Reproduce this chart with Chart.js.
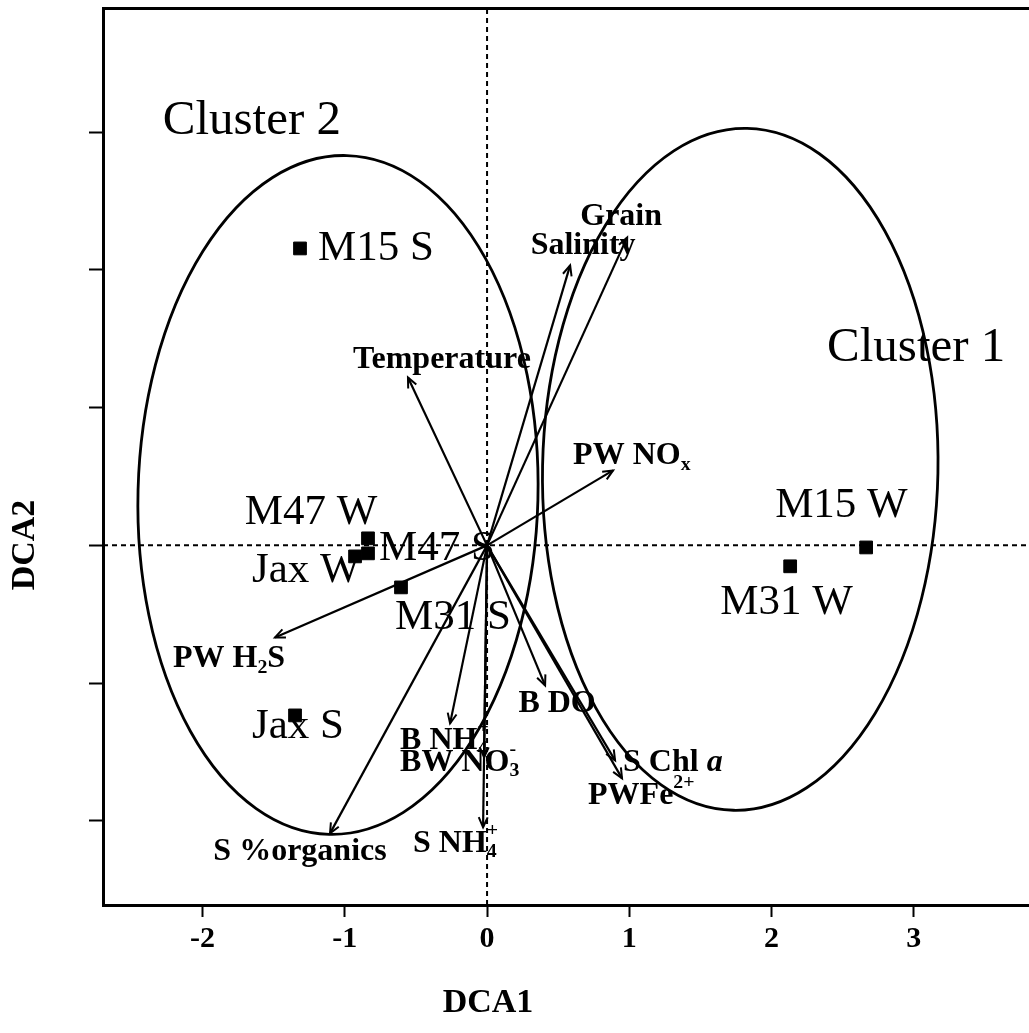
<!DOCTYPE html>
<html>
<head>
<meta charset="utf-8">
<script src="https://cdn.jsdelivr.net/npm/chart.js@4.4.1/dist/chart.umd.min.js"></script>
<style>
  html, body { margin: 0; padding: 0; background: #fff; }
  canvas { display: block; }
</style>
</head>
<body>
<canvas id="chart" width="1029" height="1033"></canvas>
<script>
// Axis ranges and ticks
const X_MIN = -2.70, X_MAX = 3.81;
const Y_MIN = -2.61, Y_MAX = 3.90;
const xTickValues = [-2, -1, 0, 1, 2, 3];
const xTickLabels = ['-2', '-1', '0', '1', '2', '3'];
const yTickValues = [-2, -1, 0, 1, 2, 3];
const xTitle = 'DCA1';
const yTitle = 'DCA2';

// Sample sites (DCA scores)
const siteNames = ['M15 S', 'M47 W', 'M47 S', 'Jax W', 'M31 S', 'Jax S', 'M15 W', 'M31 W'];
const siteDCA1 = [-1.315, -0.837, -0.837, -0.928, -0.605, -1.350, 2.665, 2.131];
const siteDCA2 = [2.155, 0.051, -0.058, -0.080, -0.305, -1.234, -0.015, -0.152];

// Environmental vectors (arrow tips). _{} = subscript, ^{} = superscript, *...* = italic
const vectorNames = ['Grain', 'Salinity', 'Temperature', 'PW NO_{x}', 'PW H_{2}S', 'S %organics',
  'B DO', 'S Chl *a*', 'PWFe^{2+}', 'B NH_{4}^{+}', 'BW NO_{3}^{-}', 'S NH_{4}^{+}'];
const vectorDCA1 = [0.985, 0.584, -0.556, 0.886, -1.491, -1.104, 0.408, 0.900, 0.949, -0.260, -0.021, -0.028];
const vectorDCA2 = [2.235, 2.032, 1.219, 0.544, -0.668, -2.090, -1.016, -1.560, -1.691, -1.292, -1.538, -2.046];

// Cluster ellipses
const clusterNames = ['Cluster 2', 'Cluster 1'];
const clusterCX = [-1.048, 1.78];
const clusterCY = [0.366, 0.552];
const clusterRX = [1.406, 1.39];
const clusterRY = [2.464, 2.475];
const clusterTilt = [0.026, 0.02];

// Label placement (pixel offsets from the mark)
const siteLabelDX = [18, -57, 11, -103, -6, -43, -91, -70];
const siteLabelDY = [0, -26, -5, 14, 30, 11, -42, 36];
const siteLabelAlign = ['left', 'center', 'left', 'left', 'left', 'left', 'left', 'left'];
const vectorLabelDX = [-6, 13, 34, -40, -102, -30, 12, 8, -34, -50, -84, -70];
const vectorLabelDY = [-21, -20, -18, -15, 21, 18, 18, 2, 17, 17, 5, 16];
const vectorLabelAlign = ['center', 'center', 'center', 'left', 'left', 'center', 'center', 'left', 'left', 'left', 'left', 'left'];
const clusterLabelX = [-2.28, 2.39];
const clusterLabelY = [3.08, 1.43];

const SERIF = '"Liberation Serif", "Times New Roman", serif';

function parseRich(str) {
  return str.split(/(_\{[^}]*\}|\^\{[^}]*\}|\*[^*]+\*)/).filter(s => s).map(p => {
    if (p.startsWith('_{')) return { t: p.slice(2, -1), kind: 'sub' };
    if (p.startsWith('^{')) return { t: p.slice(2, -1), kind: 'sup' };
    if (p.startsWith('*')) return { t: p.slice(1, -1), kind: 'it' };
    return { t: p, kind: 'n' };
  });
}

function drawRich(ctx, str, x, y, size, weight, align) {
  const items = [];
  let cx = 0, lastSubX = null;
  parseRich(str).forEach(r => {
    const small = r.kind === 'sub' || r.kind === 'sup';
    const font = `${r.kind === 'it' ? 'italic ' : ''}${weight} ${small ? size * 0.62 : size}px ${SERIF}`;
    ctx.font = font;
    const w = ctx.measureText(r.t).width;
    let rx = cx, dy = 0;
    if (r.kind === 'sub') dy = size * 0.28;
    if (r.kind === 'sup') {
      dy = -size * 0.4;
      if (lastSubX !== null) rx = lastSubX;
    }
    items.push({ t: r.t, x: rx, dy, font });
    cx = Math.max(cx, rx + w);
    lastSubX = r.kind === 'sub' ? rx : null;
  });
  const x0 = align === 'center' ? x - cx / 2 : align === 'right' ? x - cx : x;
  ctx.textAlign = 'left';
  ctx.textBaseline = 'middle';
  items.forEach(it => {
    ctx.font = it.font;
    ctx.fillText(it.t, x0 + it.x, y + it.dy);
  });
}

const biplotDecor = {
  id: 'biplotDecor',
  beforeDatasetsDraw(chart) {
    const { ctx, chartArea, scales: { x, y } } = chart;
    ctx.save();
    ctx.beginPath();
    ctx.rect(chartArea.left, chartArea.top, chartArea.right - chartArea.left, chartArea.bottom - chartArea.top);
    ctx.clip();
    ctx.strokeStyle = '#000';
    ctx.lineWidth = 2.8;
    clusterNames.forEach((n, i) => {
      const px = x.getPixelForValue(clusterCX[i]);
      const py = y.getPixelForValue(clusterCY[i]);
      const rx = Math.abs(x.getPixelForValue(clusterCX[i] + clusterRX[i]) - px);
      const ry = Math.abs(y.getPixelForValue(clusterCY[i] + clusterRY[i]) - py);
      ctx.beginPath();
      ctx.ellipse(px, py, rx, ry, clusterTilt[i], 0, Math.PI * 2);
      ctx.stroke();
    });
    ctx.restore();
  },
  afterDatasetsDraw(chart) {
    const { ctx, scales: { x, y } } = chart;
    ctx.save();
    ctx.strokeStyle = '#000';
    ctx.fillStyle = '#000';
    ctx.lineWidth = 2;

    // open arrowheads at vector tips
    const ox = x.getPixelForValue(0), oy = y.getPixelForValue(0);
    vectorNames.forEach((n, i) => {
      const tx = x.getPixelForValue(vectorDCA1[i]);
      const ty = y.getPixelForValue(vectorDCA2[i]);
      const a = Math.atan2(ty - oy, tx - ox);
      const len = 11, spread = 0.42;
      ctx.beginPath();
      ctx.moveTo(tx - len * Math.cos(a - spread), ty - len * Math.sin(a - spread));
      ctx.lineTo(tx, ty);
      ctx.lineTo(tx - len * Math.cos(a + spread), ty - len * Math.sin(a + spread));
      ctx.stroke();
      drawRich(ctx, n, tx + vectorLabelDX[i], ty + vectorLabelDY[i], 32, 'bold', vectorLabelAlign[i]);
    });

    siteNames.forEach((n, i) => {
      const px = x.getPixelForValue(siteDCA1[i]);
      const py = y.getPixelForValue(siteDCA2[i]);
      drawRich(ctx, n, px + siteLabelDX[i], py + siteLabelDY[i], 43, 'normal', siteLabelAlign[i]);
    });

    clusterNames.forEach((n, i) => {
      drawRich(ctx, n, x.getPixelForValue(clusterLabelX[i]), y.getPixelForValue(clusterLabelY[i]), 49, 'normal', 'left');
    });
    ctx.restore();
  },
  afterDraw(chart) {
    // axis titles sit over the origin lines rather than the middle of the frame
    const { ctx } = chart;
    ctx.save();
    ctx.fillStyle = '#000';
    ctx.font = `bold 34px ${SERIF}`;
    ctx.textAlign = 'center';
    ctx.textBaseline = 'middle';
    ctx.fillText(xTitle, 488, 1003);
    ctx.translate(25, 545);
    ctx.rotate(-Math.PI / 2);
    ctx.fillText(yTitle, 0, 0);
    ctx.restore();
  }
};

const line = { showLine: true, borderColor: '#000', borderWidth: 2.2, pointRadius: 0, fill: false };

const chart = new Chart(document.getElementById('chart'), {
  type: 'scatter',
  data: {
    datasets: [
      // zero reference lines
      { ...line, borderWidth: 2, data: [{ x: 0, y: Y_MIN }, { x: 0, y: Y_MAX }], borderDash: [5, 4] },
      { ...line, borderWidth: 2, data: [{ x: X_MIN, y: 0 }, { x: X_MAX, y: 0 }], borderDash: [5, 4] },
      ...vectorNames.map((n, i) => ({
        ...line,
        label: n,
        data: [{ x: 0, y: 0 }, { x: vectorDCA1[i], y: vectorDCA2[i] }],
      })),
      {
        label: 'Sites',
        data: siteNames.map((n, i) => ({ x: siteDCA1[i], y: siteDCA2[i] })),
        pointStyle: 'rect',
        pointRadius: 9,
        backgroundColor: '#000',
        borderColor: '#000',
        borderWidth: 1,
      },
    ],
  },
  options: {
    responsive: false,
    animation: false,
    layout: { autoPadding: false, padding: { top: 8, left: 0, right: 0, bottom: 0 } },
    plugins: {
      legend: { display: false },
      tooltip: { enabled: false },
    },
    scales: {
      x: {
        type: 'linear',
        position: 'bottom',
        min: X_MIN,
        max: X_MAX,
        afterBuildTicks: s => { s.ticks = xTickValues.map(v => ({ value: v })); },
        afterFit: s => { s.height = 128; },
        grid: { drawOnChartArea: false, tickLength: 12, tickWidth: 2, tickColor: '#000' },
        border: { display: true, color: '#000', width: 3 },
        ticks: {
          color: '#000',
          padding: 4,
          maxRotation: 0,
          autoSkip: false,
          font: { family: SERIF, size: 30, weight: 'bold' },
          callback: (v, i) => xTickLabels[i],
        },
        title: { display: false },
      },
      x2: {
        type: 'linear',
        position: 'top',
        min: X_MIN,
        max: X_MAX,
        afterFit: s => { s.height = 0; },
        grid: { display: false },
        ticks: { display: false },
        border: { display: true, color: '#000', width: 3 },
      },
      y: {
        type: 'linear',
        position: 'left',
        min: Y_MIN,
        max: Y_MAX,
        afterBuildTicks: s => { s.ticks = yTickValues.map(v => ({ value: v })); },
        afterFit: s => { s.width = 103; },
        grid: { drawOnChartArea: false, tickLength: 14, tickWidth: 2, tickColor: '#000' },
        border: { display: true, color: '#000', width: 3 },
        ticks: { display: false },
        title: { display: false },
      },
    },
  },
  plugins: [biplotDecor],
});
</script>
</body>
</html>
